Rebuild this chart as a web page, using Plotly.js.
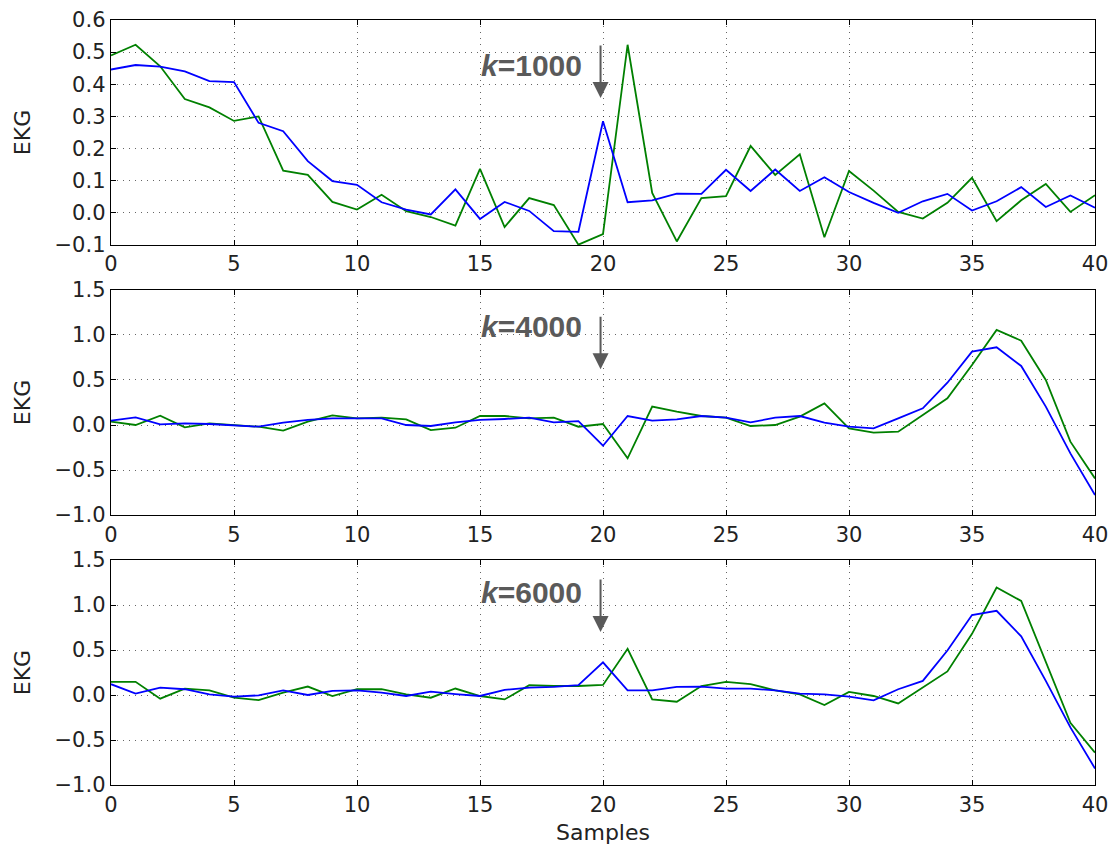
<!DOCTYPE html>
<html>
<head>
<meta charset="utf-8">
<script src="https://cdn.plot.ly/plotly-3.0.1.min.js"></script>
<style>
html,body{margin:0;padding:0;background:#fff;}
#chart{width:1118px;height:847px;}
</style>
</head>
<body>
<div id="chart"></div>
<script>
var samples = [0,1,2,3,4,5,6,7,8,9,10,11,12,13,14,15,16,17,18,19,20,21,22,23,24,25,26,27,28,29,30,31,32,33,34,35,36,37,38,39,40];

var k1000Green = [0.49,0.523,0.456,0.354,0.328,0.286,0.30,0.131,0.118,0.034,0.01,0.056,0.005,-0.013,-0.04,0.137,-0.044,0.046,0.024,-0.099,-0.066,0.523,0.062,-0.089,0.046,0.052,0.208,0.118,0.182,-0.076,0.13,0.069,0.003,-0.018,0.031,0.109,-0.026,0.039,0.09,0.003,0.055];
var k1000Blue = [0.446,0.46,0.455,0.44,0.41,0.407,0.28,0.254,0.161,0.099,0.087,0.033,0.01,-0.005,0.073,-0.019,0.034,0.006,-0.057,-0.059,0.285,0.033,0.039,0.06,0.059,0.134,0.068,0.135,0.068,0.111,0.065,0.031,0.0,0.036,0.059,0.007,0.036,0.08,0.018,0.054,0.016];

var k4000Green = [0.037,0.0,0.104,-0.026,0.019,0.0,-0.019,-0.063,0.037,0.107,0.074,0.081,0.063,-0.056,-0.03,0.1,0.1,0.074,0.081,-0.019,0.011,-0.37,0.204,0.148,0.1,0.081,-0.011,0.0,0.093,0.24,-0.037,-0.085,-0.074,0.111,0.296,0.667,1.056,0.937,0.5,-0.185,-0.593];
var k4000Blue = [0.048,0.085,0.007,0.019,0.011,-0.007,-0.019,0.026,0.056,0.074,0.074,0.074,0.0,-0.011,0.03,0.056,0.067,0.081,0.03,0.044,-0.23,0.1,0.048,0.063,0.1,0.081,0.03,0.081,0.1,0.026,-0.019,-0.037,0.074,0.185,0.47,0.815,0.863,0.656,0.204,-0.315,-0.778];

var k6000Green = [0.146,0.146,-0.041,0.071,0.052,-0.03,-0.056,0.026,0.094,-0.011,0.064,0.064,0.007,-0.03,0.072,-0.011,-0.049,0.109,0.1,0.1,0.112,0.513,-0.049,-0.075,0.1,0.146,0.12,0.052,0.007,-0.112,0.034,-0.011,-0.094,0.082,0.262,0.68,1.195,1.045,0.363,-0.31,-0.64];
var k6000Blue = [0.12,0.015,0.082,0.064,0.007,-0.019,-0.004,0.052,0.0,0.045,0.052,0.026,-0.011,0.037,0.01,-0.011,0.056,0.082,0.09,0.109,0.363,0.052,0.052,0.09,0.094,0.071,0.071,0.052,0.015,0.007,-0.019,-0.06,0.064,0.157,0.494,0.888,0.936,0.652,0.157,-0.36,-0.816];

var panelLabels = ['<b><i>k</i>=1000</b>', '<b><i>k</i>=4000</b>', '<b><i>k</i>=6000</b>'];
var markerSample = 19.9;
var labelSample = 17.1;
var labelY = [0.46, 1.09, 1.14];
var arrowTipY = [0.357, 0.62, 0.70];
var yTitle = 'EKG';
var xTitle = 'Samples';

var GREEN = '#008000', BLUE = '#0000ff';
var series = [[k1000Green,k1000Blue],[k4000Green,k4000Blue],[k6000Green,k6000Blue]];
var traces = [];
series.forEach(function(pair, p){
  var sfx = p === 0 ? '' : String(p+1);
  traces.push({x: samples, y: pair[0], type:'scatter', mode:'lines', line:{color:GREEN, width:1.8}, xaxis:'x'+sfx, yaxis:'y'+sfx, showlegend:false, hoverinfo:'skip'});
  traces.push({x: samples, y: pair[1], type:'scatter', mode:'lines', line:{color:BLUE, width:1.8}, xaxis:'x'+sfx, yaxis:'y'+sfx, showlegend:false, hoverinfo:'skip'});
});

var FONT = 'DejaVu Sans, sans-serif';
function xa(domainAnchor, withTitle){
  var o = {
    range:[0,40], dtick:5, tick0:0, anchor:domainAnchor,
    showline:true, linecolor:'#000', linewidth:1.3, mirror:'ticks',
    ticks:'inside', ticklen:5, tickcolor:'#000', tickwidth:1,
    showgrid:true, gridcolor:'rgba(0,0,0,0.6)', gridwidth:1, griddash:'1px,5px',
    zeroline:false, tickfont:{family:FONT, size:21, color:'#222'}, fixedrange:true
  };
  if (withTitle) o.title = {text: xTitle, font:{family:FONT, size:22, color:'#222'}, standoff:9};
  return o;
}
function ya(domain, range, dtick, anchor){
  return {
    domain: domain, range: range, dtick: dtick, tick0: 0, anchor: anchor,
    tickformat:'.1f',
    showline:true, linecolor:'#000', linewidth:1.3, mirror:'ticks',
    ticks:'inside', ticklen:5, tickcolor:'#000', tickwidth:1,
    showgrid:true, gridcolor:'rgba(0,0,0,0.6)', gridwidth:1, griddash:'1px,5px',
    zeroline:false, tickfont:{family:FONT, size:21, color:'#222'}, fixedrange:true,
    title:{text: yTitle, font:{family:FONT, size:22, color:'#222'}, standoff:17}
  };
}

var annotations = [];
['', '2', '3'].forEach(function(sfx, p){
  annotations.push({xref:'x'+sfx, yref:'y'+sfx, x: labelSample, y: labelY[p], text: panelLabels[p], showarrow:false,
    xanchor:'center', yanchor:'middle', font:{family:'Liberation Sans, Arial, sans-serif', size:30, color:'#5a5a5a'}});
  annotations.push({xref:'x'+sfx, yref:'y'+sfx, x: markerSample, y: arrowTipY[p], text:'', showarrow:true,
    ax:0, ay:-54, arrowhead:2, arrowsize:1.6, arrowwidth:2, arrowcolor:'#5a5a5a', standoff:0, startstandoff:0});
});

var layout = {
  width:1118, height:847,
  margin:{l:111, r:23, t:20, b:62},
  paper_bgcolor:'#fff', plot_bgcolor:'#fff',
  font:{family:FONT, color:'#222'},
  showlegend:false,
  xaxis: xa('y', false),
  yaxis: ya([0.7059,1], [-0.1,0.6], 0.1, 'x'),
  xaxis2: xa('y2', false),
  yaxis2: ya([0.3529,0.6471], [-1.0,1.5], 0.5, 'x2'),
  xaxis3: xa('y3', true),
  yaxis3: ya([0,0.2941], [-1.0,1.5], 0.5, 'x3'),
  annotations: annotations
};

Plotly.newPlot('chart', traces, layout, {staticPlot:true, displayModeBar:false});
</script>
</body>
</html>
